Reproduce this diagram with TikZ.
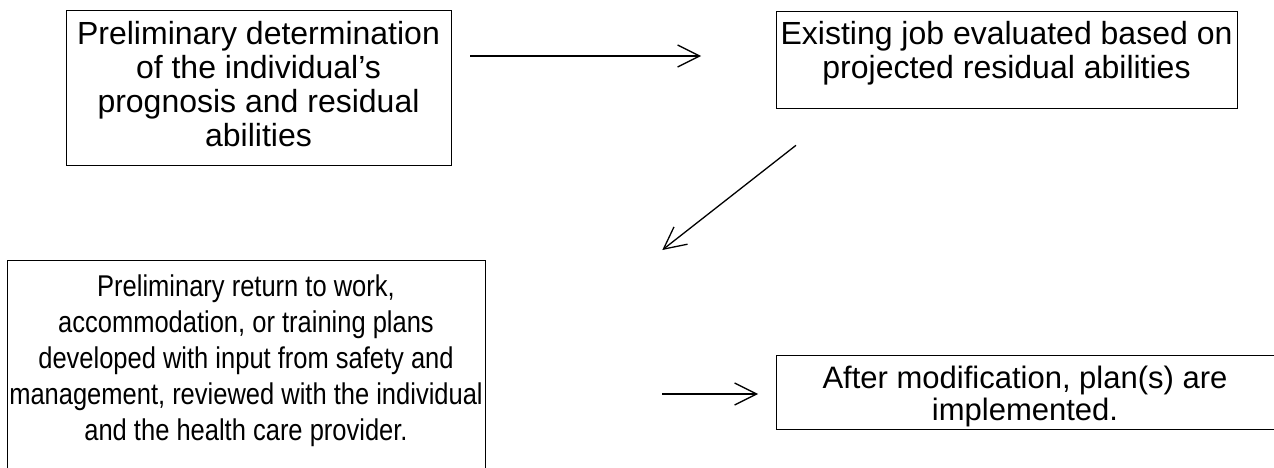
\documentclass[tikz,border=0pt]{standalone}
\usepackage{fontspec}
\setmainfont{Liberation Sans}
\newfontfamily\narrowfont[FakeStretch=0.85]{Liberation Sans}
\usetikzlibrary{arrows.meta,calc}
\begin{document}
\begin{tikzpicture}[x=1pt,y=-1pt,
  box/.style={draw, line width=1.3pt, inner sep=0pt, anchor=north west},
  txt/.style={align=center, inner sep=0pt, anchor=north, font=\fontsize{32}{34}\selectfont},
  arr/.style={line width=1.3pt, -{Straight Barb[length=22pt,width=22pt,line width=1.3pt]}}]
\useasboundingbox (0,0) rectangle (1274,468);
\node[box, minimum width=385pt, minimum height=155pt] (b1) at (66,10) {};
\node[box, minimum width=461pt, minimum height=97pt] (b2) at (776,11) {};
\node[box, minimum width=478pt, minimum height=212pt] (b3) at (7,260) {};
\node[box, minimum width=500pt, minimum height=74pt] (b4) at (776,355) {};
\node[txt] (t1) at (258.5,21) {Preliminary determination\\ of the individual’s\\ prognosis and residual\\ abilities};
\node[txt] (t2) at (1006.5,21) {Existing job evaluated based on\\ projected residual abilities};
\node[txt, font=\narrowfont\fontsize{30}{36}\selectfont] (t3) at (246,275) {Preliminary return to work,\\ accommodation, or training plans\\ developed with input from safety and\\ management, reviewed with the individual\\ and the health care provider.};
\node[txt, font=\fontsize{31}{32}\selectfont] (t4) at (1025,366) {After modification, plan(s) are\\ implemented.};
\draw[arr] ($(b1.north east)+(18,46)$) -- ($(b2.north west)+(-75,45)$);
\draw[arr] ($(b2.south west)+(20,36)$) -- ($(b3.north east)+(176,-10)$);
\draw[arr] ($(b3.north east)+(176,134)$) -- ($(b4.north west)+(-18,39)$);
\end{tikzpicture}
\end{document}
